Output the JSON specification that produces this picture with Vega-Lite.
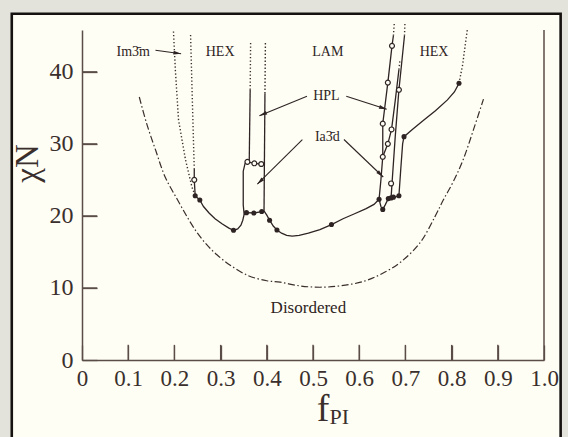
{
  "$schema": "https://vega.github.io/schema/vega-lite/v6.json",
  "width": 462,
  "height": 330,
  "autosize": {"type": "none"},
  "padding": {"left": 82, "top": 30, "right": 24, "bottom": 77},
  "background": "#e3e3db",
  "config": {
    "view": {"stroke": null},
    "axis": {
      "grid": false,
      "domainColor": "#5a4c47",
      "domainWidth": 1.5,
      "tickColor": "#5a4c47",
      "tickWidth": 1.3,
      "tickSize": -15,
      "labelFont": "Liberation Serif",
      "labelColor": "#3a2f2c",
      "labelFontSize": 23,
      "titleFont": "Liberation Serif",
      "titleFontWeight": "normal",
      "titleColor": "#3a2f2c"
    }
  },
  "datasets": {
    "solid": [
      {"seg": "main", "i": 1, "x": 0.243, "y": 26.6},
      {"seg": "main", "i": 2, "x": 0.243, "y": 25.0},
      {"seg": "main", "i": 3, "x": 0.245, "y": 22.8},
      {"seg": "main", "i": 4, "x": 0.255, "y": 22.2},
      {"seg": "main", "i": 5, "x": 0.263, "y": 21.3},
      {"seg": "main", "i": 6, "x": 0.275, "y": 20.4},
      {"seg": "main", "i": 7, "x": 0.288, "y": 19.6},
      {"seg": "main", "i": 8, "x": 0.303, "y": 18.9},
      {"seg": "main", "i": 9, "x": 0.318, "y": 18.3},
      {"seg": "main", "i": 10, "x": 0.328, "y": 18.0},
      {"seg": "main", "i": 11, "x": 0.337, "y": 18.2},
      {"seg": "main", "i": 12, "x": 0.344, "y": 18.7},
      {"seg": "main", "i": 13, "x": 0.348, "y": 19.4},
      {"seg": "main", "i": 14, "x": 0.351, "y": 20.2},
      {"seg": "main", "i": 15, "x": 0.356, "y": 20.45},
      {"seg": "main", "i": 16, "x": 0.372, "y": 20.4},
      {"seg": "main", "i": 17, "x": 0.389, "y": 20.6},
      {"seg": "main", "i": 18, "x": 0.395, "y": 20.6},
      {"seg": "main", "i": 19, "x": 0.400, "y": 20.1},
      {"seg": "main", "i": 20, "x": 0.406, "y": 19.4},
      {"seg": "main", "i": 21, "x": 0.414, "y": 18.6},
      {"seg": "main", "i": 22, "x": 0.422, "y": 18.05},
      {"seg": "main", "i": 23, "x": 0.432, "y": 17.6},
      {"seg": "main", "i": 24, "x": 0.443, "y": 17.3},
      {"seg": "main", "i": 25, "x": 0.455, "y": 17.2},
      {"seg": "main", "i": 26, "x": 0.470, "y": 17.3},
      {"seg": "main", "i": 27, "x": 0.490, "y": 17.6},
      {"seg": "main", "i": 28, "x": 0.515, "y": 18.1},
      {"seg": "main", "i": 29, "x": 0.540, "y": 18.8},
      {"seg": "main", "i": 30, "x": 0.565, "y": 19.6},
      {"seg": "main", "i": 31, "x": 0.590, "y": 20.3},
      {"seg": "main", "i": 32, "x": 0.615, "y": 21.0},
      {"seg": "main", "i": 33, "x": 0.632, "y": 21.6},
      {"seg": "main", "i": 34, "x": 0.643, "y": 22.3},
      {"seg": "main", "i": 35, "x": 0.647, "y": 21.3},
      {"seg": "main", "i": 36, "x": 0.651, "y": 20.9},
      {"seg": "main", "i": 37, "x": 0.656, "y": 21.5},
      {"seg": "main", "i": 38, "x": 0.663, "y": 22.4},
      {"seg": "main", "i": 39, "x": 0.669, "y": 22.5},
      {"seg": "main", "i": 40, "x": 0.678, "y": 22.6},
      {"seg": "main", "i": 41, "x": 0.686, "y": 22.8},
      {"seg": "rect", "i": 1, "x": 0.351, "y": 20.2},
      {"seg": "rect", "i": 2, "x": 0.349, "y": 21.5},
      {"seg": "rect", "i": 3, "x": 0.349, "y": 26.2},
      {"seg": "rect", "i": 4, "x": 0.353, "y": 27.3},
      {"seg": "rect", "i": 5, "x": 0.358, "y": 27.5},
      {"seg": "rect", "i": 6, "x": 0.373, "y": 27.3},
      {"seg": "rect", "i": 7, "x": 0.388, "y": 27.2},
      {"seg": "rect", "i": 8, "x": 0.394, "y": 27.1},
      {"seg": "v1", "i": 1, "x": 0.362, "y": 27.6},
      {"seg": "v1", "i": 2, "x": 0.364, "y": 37.5},
      {"seg": "v2", "i": 1, "x": 0.394, "y": 20.6},
      {"seg": "v2", "i": 2, "x": 0.396, "y": 37.0},
      {"seg": "r1", "i": 1, "x": 0.674, "y": 45.0},
      {"seg": "r1", "i": 2, "x": 0.671, "y": 43.6},
      {"seg": "r1", "i": 3, "x": 0.662, "y": 38.5},
      {"seg": "r1", "i": 4, "x": 0.651, "y": 32.8},
      {"seg": "r1", "i": 5, "x": 0.651, "y": 28.2},
      {"seg": "r1", "i": 6, "x": 0.647, "y": 25.0},
      {"seg": "r1", "i": 7, "x": 0.643, "y": 22.3},
      {"seg": "r2", "i": 1, "x": 0.651, "y": 28.2},
      {"seg": "r2", "i": 2, "x": 0.662, "y": 30.0},
      {"seg": "r2", "i": 3, "x": 0.670, "y": 32.0},
      {"seg": "r2", "i": 4, "x": 0.678, "y": 36.0},
      {"seg": "r2", "i": 5, "x": 0.686, "y": 40.3},
      {"seg": "r3", "i": 1, "x": 0.698, "y": 45.0},
      {"seg": "r3", "i": 2, "x": 0.686, "y": 37.5},
      {"seg": "r3", "i": 3, "x": 0.678, "y": 31.0},
      {"seg": "r3", "i": 4, "x": 0.671, "y": 24.5},
      {"seg": "r3", "i": 5, "x": 0.669, "y": 22.5},
      {"seg": "r4", "i": 1, "x": 0.686, "y": 22.8},
      {"seg": "r4", "i": 2, "x": 0.690, "y": 26.5},
      {"seg": "r4", "i": 3, "x": 0.694, "y": 30.0},
      {"seg": "r4", "i": 4, "x": 0.697, "y": 31.0},
      {"seg": "r4", "i": 5, "x": 0.715, "y": 32.0},
      {"seg": "r4", "i": 6, "x": 0.740, "y": 33.3},
      {"seg": "r4", "i": 7, "x": 0.765, "y": 34.6},
      {"seg": "r4", "i": 8, "x": 0.791, "y": 36.1},
      {"seg": "r4", "i": 9, "x": 0.806, "y": 37.2},
      {"seg": "r4", "i": 10, "x": 0.816, "y": 38.4}
    ],
    "dotted": [
      {"seg": "dA", "i": 1, "x": 0.198, "y": 45.6},
      {"seg": "dA", "i": 2, "x": 0.202, "y": 40.3},
      {"seg": "dA", "i": 3, "x": 0.209, "y": 33.3},
      {"seg": "dA", "i": 4, "x": 0.224, "y": 27.8},
      {"seg": "dA", "i": 5, "x": 0.238, "y": 24.0},
      {"seg": "dA", "i": 6, "x": 0.245, "y": 22.8},
      {"seg": "dB", "i": 1, "x": 0.235, "y": 45.1},
      {"seg": "dB", "i": 2, "x": 0.238, "y": 38.0},
      {"seg": "dB", "i": 3, "x": 0.242, "y": 28.7},
      {"seg": "dB", "i": 4, "x": 0.243, "y": 26.6},
      {"seg": "dv1", "i": 1, "x": 0.364, "y": 37.5},
      {"seg": "dv1", "i": 2, "x": 0.365, "y": 44.2},
      {"seg": "dv2", "i": 1, "x": 0.396, "y": 37.0},
      {"seg": "dv2", "i": 2, "x": 0.397, "y": 44.2},
      {"seg": "dr1", "i": 1, "x": 0.674, "y": 45.0},
      {"seg": "dr1", "i": 2, "x": 0.676, "y": 46.8},
      {"seg": "dr2", "i": 1, "x": 0.686, "y": 40.3},
      {"seg": "dr2", "i": 2, "x": 0.688, "y": 41.5},
      {"seg": "dr3", "i": 1, "x": 0.698, "y": 45.0},
      {"seg": "dr3", "i": 2, "x": 0.699, "y": 46.8},
      {"seg": "dr4", "i": 1, "x": 0.816, "y": 38.4},
      {"seg": "dr4", "i": 2, "x": 0.824, "y": 41.0},
      {"seg": "dr4", "i": 3, "x": 0.829, "y": 43.5},
      {"seg": "dr4", "i": 4, "x": 0.834, "y": 45.8}
    ],
    "mft": [
      {"i": 1, "x": 0.124, "y": 36.5},
      {"i": 2, "x": 0.140, "y": 32.8},
      {"i": 3, "x": 0.160, "y": 29.0},
      {"i": 4, "x": 0.180, "y": 25.4},
      {"i": 5, "x": 0.207, "y": 22.2},
      {"i": 6, "x": 0.230, "y": 19.6},
      {"i": 7, "x": 0.250, "y": 17.6},
      {"i": 8, "x": 0.270, "y": 16.0},
      {"i": 9, "x": 0.292, "y": 14.6},
      {"i": 10, "x": 0.320, "y": 13.2},
      {"i": 11, "x": 0.360, "y": 11.7},
      {"i": 12, "x": 0.400, "y": 11.0},
      {"i": 13, "x": 0.429, "y": 10.8},
      {"i": 14, "x": 0.470, "y": 10.3},
      {"i": 15, "x": 0.515, "y": 10.1},
      {"i": 16, "x": 0.560, "y": 10.3},
      {"i": 17, "x": 0.609, "y": 10.9},
      {"i": 18, "x": 0.650, "y": 12.0},
      {"i": 19, "x": 0.690, "y": 13.6},
      {"i": 20, "x": 0.732, "y": 16.3},
      {"i": 21, "x": 0.764, "y": 19.9},
      {"i": 22, "x": 0.782, "y": 22.2},
      {"i": 23, "x": 0.804, "y": 24.8},
      {"i": 24, "x": 0.825, "y": 27.8},
      {"i": 25, "x": 0.847, "y": 31.9},
      {"i": 26, "x": 0.869, "y": 36.2}
    ],
    "filled": [
      {"x": 0.245, "y": 22.8}, {"x": 0.255, "y": 22.2}, {"x": 0.328, "y": 18.0},
      {"x": 0.356, "y": 20.45}, {"x": 0.372, "y": 20.4}, {"x": 0.389, "y": 20.6},
      {"x": 0.406, "y": 19.4}, {"x": 0.422, "y": 18.05}, {"x": 0.540, "y": 18.8},
      {"x": 0.643, "y": 22.3}, {"x": 0.651, "y": 20.9}, {"x": 0.663, "y": 22.4},
      {"x": 0.669, "y": 22.5}, {"x": 0.674, "y": 22.6}, {"x": 0.686, "y": 22.8},
      {"x": 0.697, "y": 31.0}, {"x": 0.816, "y": 38.4}
    ],
    "open": [
      {"x": 0.243, "y": 25.0}, {"x": 0.358, "y": 27.5}, {"x": 0.373, "y": 27.3},
      {"x": 0.388, "y": 27.2}, {"x": 0.671, "y": 43.6}, {"x": 0.662, "y": 38.5},
      {"x": 0.686, "y": 37.5}, {"x": 0.651, "y": 32.8}, {"x": 0.670, "y": 32.0},
      {"x": 0.662, "y": 30.0}, {"x": 0.651, "y": 28.2}, {"x": 0.669, "y": 24.5}
    ],
    "arrows": [
      {"name": "Im3m", "x": 0.159, "y": 43.0, "x2": 0.2145, "y2": 42.5},
      {"name": "HPL-L", "x": 0.487, "y": 36.6, "x2": 0.384, "y2": 33.9},
      {"name": "HPL-R", "x": 0.572, "y": 36.6, "x2": 0.6595, "y2": 34.8},
      {"name": "Ia3d-L", "x": 0.477, "y": 30.6, "x2": 0.3795, "y2": 24.4},
      {"name": "Ia3d-R", "x": 0.567, "y": 30.6, "x2": 0.652, "y2": 25.4}
    ],
    "labels": [
      {"t": "Im3̄m", "x": 0.111, "y": 42.7},
      {"t": "HEX", "x": 0.299, "y": 42.7},
      {"t": "LAM", "x": 0.532, "y": 42.7},
      {"t": "HEX", "x": 0.762, "y": 42.7},
      {"t": "HPL", "x": 0.529, "y": 36.6},
      {"t": "Ia3̄d", "x": 0.531, "y": 31.0}
    ],
    "xticks": [
      {"x": 0.1}, {"x": 0.2}, {"x": 0.3}, {"x": 0.4}, {"x": 0.5},
      {"x": 0.6}, {"x": 0.7}, {"x": 0.8}, {"x": 0.9}
    ],
    "yticks": [{"y": 10}, {"y": 20}, {"y": 30}, {"y": 40}]
  },
  "layer": [
    {
      "data": {"values": [{"k": 1}]},
      "mark": {"type": "rect", "fill": "#fefef4", "stroke": "#161210", "strokeWidth": 2.6},
      "encoding": {
        "x": {"datum": -0.152, "type": "quantitative", "title": null, "scale": {"domain": [0, 1], "nice": false, "zero": false}},
        "x2": {"datum": 1.036},
        "y": {"datum": 48.05, "type": "quantitative", "title": "χN", "scale": {"domain": [0, 45.8], "nice": false, "zero": false}},
        "y2": {"datum": -12}
      }
    },
    {
      "data": {"name": "mft"},
      "mark": {"type": "line", "color": "#3a2e2c", "strokeWidth": 1.2, "strokeDash": [7, 2.5, 1.5, 2.5], "interpolate": "catmull-rom"},
      "encoding": {
        "x": {
          "field": "x", "type": "quantitative", "title": null,
          "scale": {"domain": [0, 1], "nice": false, "zero": false},
          "axis": {
            "title": null,
            "zindex": 2,
            "values": [0, 0.1, 0.2, 0.3, 0.4, 0.5, 0.6, 0.7, 0.8, 0.9, 1.0],
            "labelExpr": "datum.value == 0 ? '0' : format(datum.value, '.1f')",
            "labelPadding": 22,
            "labelFlush": false,
            "labelOverlap": false
          }
        },
        "y": {
          "field": "y", "type": "quantitative", "title": "χN",
          "scale": {"domain": [0, 45.8], "nice": false, "zero": false},
          "axis": {
            "title": "χN",
            "zindex": 2,
            "values": [0, 10, 20, 30, 40],
            "labelFontSize": 24,
            "labelPadding": 24,
            "titleFontSize": 33,
            "titleX": -38,
            "titleY": 133,
            "labelFlush": false
          }
        },
        "order": {"field": "i"}
      }
    },
    {
      "data": {"values": [{"k": 1}]},
      "mark": {"type": "rule", "color": "#5a4c47", "strokeWidth": 1.5},
      "encoding": {
        "x": {"datum": 1, "type": "quantitative", "title": null, "scale": {"domain": [0, 1], "nice": false, "zero": false}},
        "y": {"datum": 0, "type": "quantitative", "title": "χN", "scale": {"domain": [0, 45.8], "nice": false, "zero": false}},
        "y2": {"datum": 45.8}
      }
    },
    {
      "data": {"name": "xticks"},
      "mark": {"type": "rule", "color": "#5a4c47", "strokeWidth": 1.3},
      "encoding": {
        "x": {"field": "x", "type": "quantitative", "title": null, "scale": {"domain": [0, 1], "nice": false, "zero": false}},
        "y": {"datum": 0, "type": "quantitative", "title": "χN", "scale": {"domain": [0, 45.8], "nice": false, "zero": false}},
        "y2": {"datum": 2.1}
      }
    },
    {
      "data": {"name": "yticks"},
      "mark": {"type": "rule", "color": "#5a4c47", "strokeWidth": 1.3},
      "encoding": {
        "x": {"datum": 0, "type": "quantitative", "title": null, "scale": {"domain": [0, 1], "nice": false, "zero": false}},
        "x2": {"datum": 0.033},
        "y": {"field": "y", "type": "quantitative", "title": "χN", "scale": {"domain": [0, 45.8], "nice": false, "zero": false}}
      }
    },
    {
      "data": {"name": "dotted"},
      "mark": {"type": "line", "color": "#3a2e2c", "strokeWidth": 1.4, "strokeDash": [1.3, 2.2]},
      "encoding": {
        "x": {"field": "x", "type": "quantitative", "title": null, "scale": {"domain": [0, 1], "nice": false, "zero": false}},
        "y": {"field": "y", "type": "quantitative", "title": "χN", "scale": {"domain": [0, 45.8], "nice": false, "zero": false}},
        "detail": {"field": "seg"},
        "order": {"field": "i"}
      }
    },
    {
      "data": {"name": "solid"},
      "mark": {"type": "line", "color": "#2e2424", "strokeWidth": 1.3},
      "encoding": {
        "x": {"field": "x", "type": "quantitative", "title": null, "scale": {"domain": [0, 1], "nice": false, "zero": false}},
        "y": {"field": "y", "type": "quantitative", "title": "χN", "scale": {"domain": [0, 45.8], "nice": false, "zero": false}},
        "detail": {"field": "seg"},
        "order": {"field": "i"}
      }
    },
    {
      "data": {"name": "arrows"},
      "mark": {"type": "rule", "color": "#2e2424", "strokeWidth": 1.1},
      "encoding": {
        "x": {"field": "x", "type": "quantitative", "title": null, "scale": {"domain": [0, 1], "nice": false, "zero": false}},
        "y": {"field": "y", "type": "quantitative", "title": "χN", "scale": {"domain": [0, 45.8], "nice": false, "zero": false}},
        "x2": {"field": "x2"},
        "y2": {"field": "y2"}
      }
    },
    {
      "data": {"name": "arrows"},
      "transform": [
        {"calculate": "atan2((datum.x2 - datum.x) * 462, (datum.y2 - datum.y) * 7.205) * 180 / PI", "as": "ang"}
      ],
      "mark": {"type": "point", "shape": "M0,0L0.55,2.2L-0.55,2.2Z", "size": 49, "filled": true, "color": "#2e2424", "opacity": 1},
      "encoding": {
        "x": {"field": "x2", "type": "quantitative", "title": null, "scale": {"domain": [0, 1], "nice": false, "zero": false}},
        "y": {"field": "y2", "type": "quantitative", "title": "χN", "scale": {"domain": [0, 45.8], "nice": false, "zero": false}},
        "angle": {"field": "ang", "type": "quantitative", "scale": null}
      }
    },
    {
      "data": {"name": "filled"},
      "mark": {"type": "point", "shape": "circle", "size": 26, "filled": true, "color": "#2e2424", "opacity": 1},
      "encoding": {
        "x": {"field": "x", "type": "quantitative", "title": null, "scale": {"domain": [0, 1], "nice": false, "zero": false}},
        "y": {"field": "y", "type": "quantitative", "title": "χN", "scale": {"domain": [0, 45.8], "nice": false, "zero": false}}
      }
    },
    {
      "data": {"name": "open"},
      "mark": {"type": "point", "shape": "circle", "size": 24, "filled": false, "fill": "#fefef4", "stroke": "#2e2424", "strokeWidth": 1.2, "opacity": 1},
      "encoding": {
        "x": {"field": "x", "type": "quantitative", "title": null, "scale": {"domain": [0, 1], "nice": false, "zero": false}},
        "y": {"field": "y", "type": "quantitative", "title": "χN", "scale": {"domain": [0, 45.8], "nice": false, "zero": false}}
      }
    },
    {
      "data": {"name": "labels"},
      "mark": {"type": "text", "font": "Liberation Serif", "fontSize": 14, "color": "#2e2424", "baseline": "middle", "align": "center"},
      "encoding": {
        "x": {"field": "x", "type": "quantitative", "title": null, "scale": {"domain": [0, 1], "nice": false, "zero": false}},
        "y": {"field": "y", "type": "quantitative", "title": "χN", "scale": {"domain": [0, 45.8], "nice": false, "zero": false}},
        "text": {"field": "t"}
      }
    },
    {
      "data": {"values": [{"t": "Disordered", "x": 0.49, "y": 7.2}]},
      "mark": {"type": "text", "font": "Liberation Serif", "fontSize": 17, "color": "#2e2424", "baseline": "middle", "align": "center"},
      "encoding": {
        "x": {"field": "x", "type": "quantitative", "title": null, "scale": {"domain": [0, 1], "nice": false, "zero": false}},
        "y": {"field": "y", "type": "quantitative", "title": "χN", "scale": {"domain": [0, 45.8], "nice": false, "zero": false}},
        "text": {"field": "t"}
      }
    },
    {
      "data": {"values": [{"t": "f", "x": 0.522, "y": -8.5}]},
      "mark": {"type": "text", "font": "Liberation Serif", "fontSize": 38, "color": "#3a2f2c", "baseline": "alphabetic", "align": "center"},
      "encoding": {
        "x": {"field": "x", "type": "quantitative", "title": null, "scale": {"domain": [0, 1], "nice": false, "zero": false}},
        "y": {"field": "y", "type": "quantitative", "title": "χN", "scale": {"domain": [0, 45.8], "nice": false, "zero": false}},
        "text": {"field": "t"}
      }
    },
    {
      "data": {"values": [{"t": "PI", "x": 0.557, "y": -8.9}]},
      "mark": {"type": "text", "font": "Liberation Serif", "fontSize": 22, "color": "#3a2f2c", "baseline": "alphabetic", "align": "center"},
      "encoding": {
        "x": {"field": "x", "type": "quantitative", "title": null, "scale": {"domain": [0, 1], "nice": false, "zero": false}},
        "y": {"field": "y", "type": "quantitative", "title": "χN", "scale": {"domain": [0, 45.8], "nice": false, "zero": false}},
        "text": {"field": "t"}
      }
    }
  ]
}
